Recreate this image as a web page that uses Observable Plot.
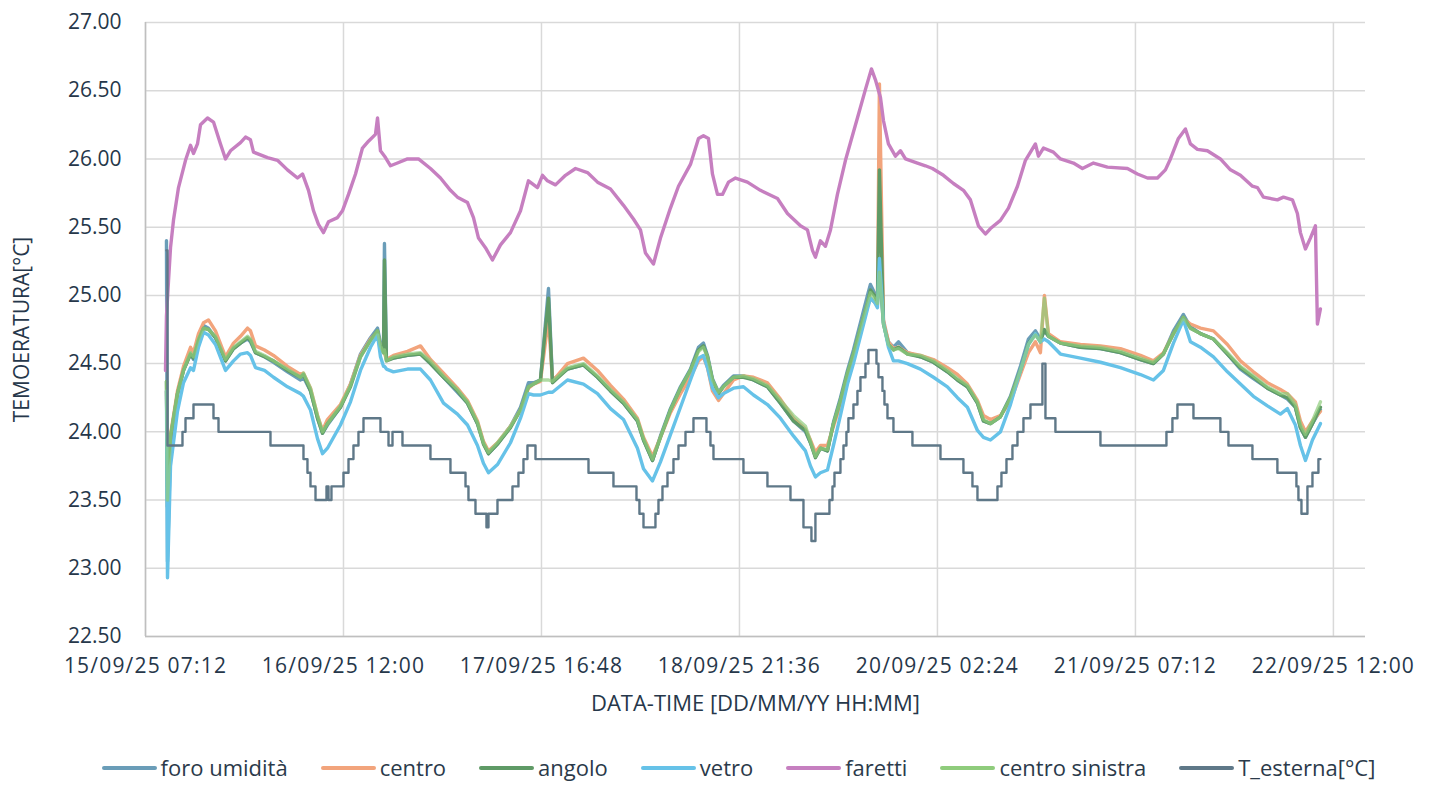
<!DOCTYPE html>
<html>
<head>
<meta charset="utf-8">
<script src="https://cdn.jsdelivr.net/npm/d3@7"></script>
<script src="https://cdn.jsdelivr.net/npm/@observablehq/plot@0.6"></script>
<style>
  html, body { margin: 0; padding: 0; background: #fff; }
  #chart { width: 1432px; height: 785px; position: relative; overflow: hidden; }
  .legend { position: absolute; left: 0; top: 754px; width: 1432px; height: 26px; box-sizing: border-box;
            display: flex; justify-content: center; align-items: center; padding-left: 45px;
            font-family: "Open Sans", sans-serif; font-size: 22px; line-height: 26px; color: #2b3a4a; }
  .legend .item { display: flex; align-items: center; margin: 0 16.5px; white-space: nowrap; }
  .legend .sw { width: 55px; height: 4px; margin-right: 4px; border-radius: 2px; position: relative; top: 1px; }
  .xt text { letter-spacing: 1.2px; }
</style>
</head>
<body>
<div id="chart"></div>
<script>
// ---- axis / labels ----
const tickLabels = ["15/09/25 07:12", "16/09/25 12:00", "17/09/25 16:48", "18/09/25 21:36", "20/09/25 02:24", "21/09/25 07:12", "22/09/25 12:00"];
const xStartLabel = "15/09/25 07:12";
const xEndLabel = "22/09/25 16:40";
const yTicks = [22.5, 23, 23.5, 24, 24.5, 25, 25.5, 26, 26.5, 27];
const xTitle = "DATA-TIME [DD/MM/YY HH:MM]";
const yTitle = "TEMOERATURA[°C]";

const seriesNames = ["foro umidità", "centro", "angolo", "vetro", "faretti", "centro sinistra", "T_esterna[°C]"];
const seriesColors = ["#6a9db8", "#f2a47c", "#5f9a66", "#66c2e8", "#c67fc0", "#8fcc7c", "#5f7888"];

// ---- indoor sensors: hours since 15/09/25 07:12 ----
const tIn = [
  3.05, 3.20, 3.64, 4.65, 5.53, 6.55, 6.98, 7.71, 8.44, 9.16,
  10.18, 11.64, 12.80, 13.82, 14.84, 15.27, 16.00, 17.31, 18.62, 20.65,
  22.55, 22.98, 24.00, 25.02, 25.75, 26.47, 28.36, 29.82, 31.27, 32.73,
  33.75, 34.18, 34.62, 34.76, 35.05, 36.07, 38.11, 40.00, 41.45, 43.35,
  45.38, 46.84, 48.29, 49.16, 49.89, 51.20, 53.09, 54.55, 55.71, 56.44,
  57.45, 58.62, 59.20, 61.38, 63.71, 65.75, 67.64, 69.53, 71.56, 72.44,
  73.75, 74.91, 76.36, 77.82, 79.27, 80.44, 81.16, 81.75, 82.47, 83.35,
  84.07, 85.53, 86.98, 88.44, 90.47, 92.36, 94.25, 96.00, 96.73, 97.45,
  98.18, 99.20, 100.07, 101.09, 102.11, 102.98, 104.00, 105.02, 105.45, 106.04,
  106.47, 106.76, 107.35, 108.07, 108.80, 109.53, 110.84, 112.73, 114.62, 116.65,
  118.11, 119.56, 121.02, 121.89, 122.91, 124.36, 125.82, 127.27, 128.44, 129.45,
  130.18, 130.76, 131.35, 133.09, 136.00, 138.91, 141.82, 144.73, 146.62, 148.07,
  149.53, 150.98, 152.00, 153.45, 155.35, 157.38, 159.27, 161.16, 163.20, 165.09,
  166.11, 167.27, 168.00, 168.73, 169.75, 170.91
];
const foro = [
  25.40, 23.05, 23.90, 24.27, 24.45, 24.57, 24.53, 24.68, 24.78, 24.76,
  24.69, 24.52, 24.61, 24.65, 24.68, 24.66, 24.58, 24.55, 24.51, 24.44,
  24.38, 24.40, 24.30, 24.10, 23.99, 24.05, 24.18, 24.35, 24.57, 24.69,
  24.76, 24.65, 24.60, 25.38, 24.53, 24.54, 24.56, 24.57, 24.50, 24.40,
  24.29, 24.21, 24.06, 23.92, 23.84, 23.91, 24.04, 24.18, 24.36, 24.36,
  24.38, 25.05, 24.38, 24.46, 24.49, 24.40, 24.30, 24.21, 24.08, 23.94,
  23.79, 23.97, 24.17, 24.33, 24.46, 24.62, 24.65, 24.56, 24.39, 24.29,
  24.34, 24.41, 24.41, 24.38, 24.33, 24.21, 24.08, 24.00, 23.92, 23.82,
  23.88, 23.86, 24.07, 24.25, 24.45, 24.60, 24.80, 25.00, 25.08, 25.02,
  24.97, 25.15, 24.80, 24.66, 24.62, 24.66, 24.58, 24.55, 24.51, 24.44,
  24.38, 24.33, 24.21, 24.08, 24.06, 24.11, 24.26, 24.48, 24.68, 24.74,
  24.68, 24.74, 24.70, 24.65, 24.62, 24.61, 24.58, 24.53, 24.50, 24.57,
  24.74, 24.86, 24.77, 24.72, 24.68, 24.57, 24.46, 24.39, 24.32, 24.27,
  24.24, 24.18, 24.03, 23.96, 24.06, 24.16
];
const centro = [
  24.30, 23.60, 23.98, 24.30, 24.48, 24.62, 24.58, 24.72, 24.80, 24.82,
  24.74, 24.55, 24.65, 24.70, 24.76, 24.74, 24.63, 24.60, 24.56, 24.48,
  24.42, 24.43, 24.32, 24.12, 24.01, 24.09, 24.20, 24.35, 24.56, 24.68,
  24.73, 24.62, 24.58, 24.58, 24.53, 24.56, 24.59, 24.63, 24.53, 24.43,
  24.32, 24.23, 24.08, 23.93, 23.86, 23.92, 24.04, 24.16, 24.32, 24.35,
  24.37, 24.83, 24.37, 24.50, 24.54, 24.45, 24.34, 24.24, 24.10, 23.96,
  23.82, 23.96, 24.14, 24.28, 24.40, 24.52, 24.55, 24.47, 24.30, 24.23,
  24.28, 24.38, 24.41, 24.40, 24.36, 24.24, 24.10, 24.02, 23.94, 23.85,
  23.90, 23.90, 24.04, 24.20, 24.40, 24.54, 24.72, 24.92, 24.98, 24.95,
  24.93, 26.55, 24.82, 24.66, 24.61, 24.62, 24.58, 24.56, 24.53, 24.47,
  24.42, 24.35, 24.23, 24.12, 24.09, 24.12, 24.22, 24.42, 24.58, 24.66,
  24.58, 25.00, 24.72, 24.66, 24.64, 24.63, 24.61, 24.56, 24.52, 24.58,
  24.72, 24.83, 24.79, 24.76, 24.74, 24.64, 24.52, 24.44, 24.36, 24.31,
  24.28, 24.22, 24.08, 24.00, 24.08, 24.15
];
const angolo = [
  24.37, 23.45, 23.96, 24.28, 24.45, 24.57, 24.54, 24.67, 24.76, 24.75,
  24.69, 24.52, 24.61, 24.65, 24.69, 24.67, 24.58, 24.55, 24.52, 24.45,
  24.40, 24.42, 24.30, 24.10, 23.99, 24.06, 24.18, 24.33, 24.55, 24.67,
  24.74, 24.62, 24.58, 25.26, 24.52, 24.54, 24.56, 24.57, 24.50, 24.40,
  24.30, 24.21, 24.06, 23.91, 23.84, 23.91, 24.03, 24.16, 24.33, 24.35,
  24.38, 24.98, 24.36, 24.46, 24.49, 24.40, 24.30, 24.21, 24.08, 23.94,
  23.79, 23.96, 24.16, 24.32, 24.45, 24.60, 24.63, 24.55, 24.38, 24.28,
  24.33, 24.40, 24.40, 24.38, 24.33, 24.21, 24.08, 24.01, 23.92, 23.81,
  23.88, 23.86, 24.06, 24.23, 24.43, 24.57, 24.76, 24.94, 25.04, 25.00,
  24.95, 25.92, 24.79, 24.64, 24.60, 24.62, 24.57, 24.55, 24.51, 24.44,
  24.38, 24.33, 24.21, 24.08, 24.06, 24.11, 24.25, 24.45, 24.65, 24.72,
  24.66, 24.75, 24.70, 24.65, 24.62, 24.61, 24.58, 24.53, 24.50, 24.57,
  24.72, 24.84, 24.76, 24.72, 24.68, 24.57, 24.47, 24.40, 24.32, 24.27,
  24.25, 24.18, 24.03, 23.96, 24.06, 24.18
];
const vetro = [
  24.30, 22.93, 23.75, 24.15, 24.36, 24.47, 24.45, 24.62, 24.73, 24.71,
  24.64, 24.45, 24.52, 24.57, 24.58, 24.56, 24.47, 24.45, 24.40, 24.33,
  24.28, 24.26, 24.16, 23.95, 23.84, 23.88, 24.05, 24.22, 24.45, 24.62,
  24.71, 24.55, 24.48, 24.48, 24.46, 24.44, 24.46, 24.46, 24.38, 24.21,
  24.13, 24.05, 23.90, 23.77, 23.70, 23.76, 23.92, 24.10, 24.28, 24.27,
  24.27, 24.29, 24.29, 24.38, 24.35, 24.28, 24.17, 24.09, 23.88, 23.73,
  23.64, 23.78, 23.98, 24.18, 24.38, 24.54, 24.56, 24.47, 24.32, 24.25,
  24.28, 24.32, 24.33, 24.27, 24.20, 24.10, 23.97, 23.86, 23.75, 23.67,
  23.70, 23.72, 23.90, 24.12, 24.35, 24.50, 24.70, 24.90, 24.98, 24.95,
  24.91, 25.27, 24.80, 24.62, 24.52, 24.52, 24.50, 24.46, 24.40, 24.33,
  24.25, 24.18, 24.01, 23.96, 23.94, 24.00, 24.20, 24.45, 24.64, 24.72,
  24.66, 24.68, 24.66, 24.57, 24.54, 24.51, 24.47, 24.42, 24.38, 24.45,
  24.65, 24.82, 24.66, 24.62, 24.55, 24.44, 24.35, 24.26, 24.19, 24.13,
  24.17, 24.05, 23.90, 23.79, 23.94, 24.06
];
const centroSinistra = [
  24.37, 23.50, 23.97, 24.28, 24.45, 24.58, 24.55, 24.68, 24.76, 24.75,
  24.70, 24.53, 24.62, 24.66, 24.70, 24.68, 24.59, 24.56, 24.52, 24.46,
  24.40, 24.43, 24.32, 24.12, 24.00, 24.06, 24.19, 24.34, 24.55, 24.67,
  24.74, 24.63, 24.58, 24.60, 24.52, 24.55, 24.57, 24.58, 24.52, 24.41,
  24.31, 24.22, 24.07, 23.92, 23.85, 23.92, 24.04, 24.16, 24.33, 24.35,
  24.38, 24.38, 24.37, 24.47, 24.50, 24.41, 24.31, 24.22, 24.09, 23.95,
  23.80, 23.96, 24.16, 24.32, 24.45, 24.59, 24.62, 24.55, 24.38, 24.29,
  24.33, 24.40, 24.41, 24.39, 24.34, 24.23, 24.12, 24.04, 23.93, 23.82,
  23.88, 23.87, 24.06, 24.23, 24.43, 24.57, 24.76, 24.94, 25.02, 24.98,
  24.94, 25.17, 24.79, 24.64, 24.60, 24.61, 24.57, 24.56, 24.52, 24.45,
  24.39, 24.34, 24.22, 24.09, 24.06, 24.11, 24.25, 24.45, 24.64, 24.71,
  24.66, 24.98, 24.70, 24.65, 24.63, 24.62, 24.59, 24.54, 24.51, 24.57,
  24.72, 24.84, 24.76, 24.72, 24.68, 24.58, 24.48, 24.41, 24.33, 24.28,
  24.28, 24.20, 24.05, 23.98, 24.08, 24.22
];

// ---- faretti ----
const tFaretti = [
  2.91, 3.05, 3.35, 3.64, 4.07, 4.80, 5.82, 6.55, 6.98, 7.56,
  8.00, 9.02, 9.89, 10.91, 11.64, 12.36, 13.82, 14.55, 15.27, 15.71,
  17.75, 19.20, 20.65, 22.11, 22.84, 23.71, 24.44, 25.16, 25.89, 26.62,
  27.93, 28.65, 29.53, 30.55, 31.56, 32.44, 33.45, 33.75, 34.18, 34.91,
  35.64, 36.65, 38.11, 39.71, 41.45, 42.91, 44.36, 45.38, 46.84, 47.71,
  48.44, 49.45, 50.47, 51.64, 53.09, 54.55, 55.71, 57.02, 57.75, 58.47,
  59.64, 61.09, 62.55, 64.29, 65.75, 67.64, 69.53, 70.98, 72.00, 72.73,
  73.89, 74.91, 76.36, 77.53, 79.27, 80.44, 81.16, 81.89, 82.47, 83.20,
  83.93, 84.80, 85.82, 87.56, 89.45, 91.93, 93.38, 95.27, 96.29, 97.02,
  97.45, 98.18, 98.91, 99.64, 100.65, 101.82, 102.55, 103.56, 104.73, 105.60,
  106.18, 106.91, 107.35, 108.07, 109.09, 109.82, 110.55, 112.29, 113.45, 114.47,
  116.07, 117.53, 118.98, 120.00, 121.16, 122.18, 122.91, 124.36, 125.53, 126.84,
  128.00, 128.73, 129.45, 129.89, 130.62, 132.07, 133.09, 134.98, 136.29, 137.89,
  139.93, 142.84, 144.29, 145.75, 147.20, 148.36, 149.09, 150.25, 151.27, 152.00,
  153.02, 154.47, 156.36, 157.82, 159.27, 161.02, 161.75, 162.62, 164.65, 165.53,
  166.84, 167.56, 168.00, 168.73, 169.45, 170.18, 170.47, 170.91
];
const faretti = [
  24.45, 24.85, 25.11, 25.35, 25.55, 25.79, 25.99, 26.10, 26.04, 26.11,
  26.25, 26.30, 26.27, 26.11, 26.00, 26.06, 26.12, 26.16, 26.14, 26.05,
  26.01, 25.99, 25.92, 25.86, 25.89, 25.77, 25.62, 25.52, 25.46, 25.54,
  25.57, 25.62, 25.74, 25.89, 26.08, 26.13, 26.18, 26.30, 26.06, 26.01,
  25.95, 25.97, 26.00, 26.00, 25.93, 25.86, 25.77, 25.72, 25.68, 25.57,
  25.42, 25.35, 25.26, 25.37, 25.46, 25.62, 25.84, 25.79, 25.88, 25.84,
  25.81, 25.88, 25.93, 25.90, 25.83, 25.78, 25.66, 25.56, 25.48, 25.31,
  25.23, 25.42, 25.64, 25.80, 25.96, 26.15, 26.17, 26.15, 25.89, 25.74,
  25.74, 25.83, 25.86, 25.83, 25.77, 25.71, 25.60, 25.51, 25.48, 25.33,
  25.28, 25.40, 25.36, 25.48, 25.74, 25.99, 26.12, 26.30, 26.51, 26.66,
  26.58, 26.45, 26.28, 26.11, 26.02, 26.06, 26.00, 25.97, 25.95, 25.93,
  25.88, 25.82, 25.77, 25.70, 25.51, 25.45, 25.49, 25.55, 25.64, 25.80,
  25.99, 26.05, 26.11, 26.02, 26.08, 26.05, 26.00, 25.97, 25.93, 25.97,
  25.94, 25.93, 25.89, 25.86, 25.86, 25.92, 26.00, 26.15, 26.22, 26.11,
  26.07, 26.06, 26.00, 25.92, 25.88, 25.80, 25.79, 25.72, 25.70, 25.72,
  25.70, 25.60, 25.46, 25.34, 25.42, 25.51, 24.79, 24.90
];

// ---- T_esterna (value changes) ----
const tEst = [
  3.05, 3.20, 5.38, 5.82, 6.98, 9.89, 10.62, 18.18, 22.98, 23.56,
  24.00, 24.73, 26.33, 26.62, 27.05, 28.80, 29.53, 30.25, 30.98, 31.71,
  34.18, 35.35, 35.93, 37.38, 41.45, 44.36, 46.55, 46.98, 48.00, 49.60,
  49.89, 51.20, 53.38, 54.25, 54.98, 55.56, 56.73, 64.44, 68.07, 71.42,
  71.85, 72.44, 74.18, 74.62, 75.20, 75.93, 76.80, 77.53, 78.55, 79.71,
  81.60, 82.18, 82.62, 86.98, 90.47, 93.82, 95.71, 96.87, 97.45, 99.49,
  99.93, 100.22, 101.09, 101.53, 101.96, 102.25, 102.98, 103.56, 104.00, 104.73,
  105.16, 106.33, 106.62, 107.20, 107.49, 107.93, 108.80, 111.56, 115.64, 118.98,
  120.29, 121.02, 123.93, 124.51, 125.24, 126.11, 126.84, 127.71, 128.73, 130.47,
  130.91, 132.36, 138.91, 148.51, 149.38, 150.11, 152.44, 156.36, 157.53, 161.02,
  164.65, 167.42, 167.71, 168.15, 169.02, 169.75, 170.62, 170.91
];
const tEsterna = [
  25.33, 23.9, 24.0, 24.1, 24.2, 24.1, 24.0, 23.9, 23.8, 23.7,
  23.6, 23.5, 23.6, 23.5, 23.6, 23.7, 23.8, 23.9, 24.0, 24.1,
  24.0, 23.9, 24.0, 23.9, 23.8, 23.7, 23.6, 23.5, 23.4, 23.3,
  23.4, 23.5, 23.6, 23.7, 23.8, 23.9, 23.8, 23.7, 23.6, 23.5,
  23.4, 23.3, 23.4, 23.5, 23.6, 23.7, 23.8, 23.9, 24.0, 24.1,
  24.0, 23.9, 23.8, 23.7, 23.6, 23.5, 23.3, 23.2, 23.4, 23.5,
  23.6, 23.7, 23.8, 23.9, 24.0, 24.1, 24.2, 24.3, 24.4, 24.5,
  24.6, 24.5, 24.4, 24.3, 24.2, 24.1, 24.0, 23.9, 23.8, 23.7,
  23.6, 23.5, 23.6, 23.7, 23.8, 23.9, 24.0, 24.1, 24.2, 24.5,
  24.1, 24.0, 23.9, 24.0, 24.1, 24.2, 24.1, 24.0, 23.9, 23.8,
  23.7, 23.6, 23.5, 23.4, 23.6, 23.7, 23.8, 23.8
];

// ---- build ----
const parse = d3.utcParse("%d/%m/%y %H:%M");
const start = parse(xStartLabel);
const end = parse(xEndLabel);
const toDate = h => new Date(+start + h * 3600000);
const rows = (name, times, values) => values.map((v, i) => ({name, date: toDate(times[i]), v}));

const sets = [
  {data: rows(seriesNames[0], tIn, foro), color: seriesColors[0], w: 3.4, op: 1, curve: "linear"},
  {data: rows(seriesNames[1], tIn, centro), color: seriesColors[1], w: 3.4, op: 1, curve: "linear"},
  {data: rows(seriesNames[2], tIn, angolo), color: seriesColors[2], w: 3.4, op: 1, curve: "linear"},
  {data: rows(seriesNames[3], tIn, vetro), color: seriesColors[3], w: 3.4, op: 1, curve: "linear"},
  {data: rows(seriesNames[4], tFaretti, faretti), color: seriesColors[4], w: 3.4, op: 1, curve: "linear"},
  {data: rows(seriesNames[5], tIn, centroSinistra), color: seriesColors[5], w: 3.4, op: 0.7, curve: "linear"},
  {data: rows(seriesNames[6], tEst, tEsterna), color: seriesColors[6], w: 2.4, op: 1, curve: "step-after"}
];

const xTicks = tickLabels.map(parse);
const font = "'Open Sans', sans-serif";

const chart = Plot.plot({
  width: 1432,
  height: 745,
  marginTop: 22,
  marginLeft: 145,
  marginRight: 67,
  marginBottom: 109,
  style: {fontFamily: font, fontSize: "21px", color: "#26374a", background: "#fff", overflow: "visible"},
  x: {type: "utc", domain: [start, end]},
  y: {domain: [22.5, 27]},
  marks: [
    Plot.gridY(yTicks, {stroke: "#d9d9d9", strokeOpacity: 1, strokeWidth: 1.5}),
    Plot.gridX(xTicks, {stroke: "#d9d9d9", strokeOpacity: 1, strokeWidth: 1.5}),
    Plot.ruleX([start], {stroke: "#bfbfbf", strokeWidth: 1.5}),
    Plot.ruleY([22.5], {stroke: "#bfbfbf", strokeWidth: 1.5}),
    ...sets.map(s => Plot.line(s.data, {x: "date", y: "v", stroke: s.color, strokeWidth: s.w, strokeOpacity: s.op, curve: s.curve, strokeLinejoin: "round", strokeLinecap: "round"})),
    Plot.axisX(xTicks, {tickSize: 0, tickPadding: 22, tickFormat: (d, i) => tickLabels[i], className: "xt", label: null}),
    Plot.axisX({ticks: [], tickSize: 0, fontSize: 22, label: xTitle, labelAnchor: "center", labelArrow: "none", labelOffset: 74}),
    Plot.axisY(yTicks, {tickSize: 0, tickPadding: 24, tickFormat: d3.format(".2f"),
      label: yTitle, labelAnchor: "center", labelArrow: "none", labelOffset: 131})
  ]
});
document.getElementById("chart").appendChild(chart);

// legend
const legend = document.createElement("div");
legend.className = "legend";
seriesNames.forEach((n, i) => {
  const it = document.createElement("div");
  it.className = "item";
  const sw = document.createElement("span");
  sw.className = "sw";
  sw.style.background = seriesColors[i];
  const tx = document.createElement("span");
  tx.textContent = n;
  it.appendChild(sw); it.appendChild(tx);
  legend.appendChild(it);
});
document.getElementById("chart").appendChild(legend);
</script>
</body>
</html>
